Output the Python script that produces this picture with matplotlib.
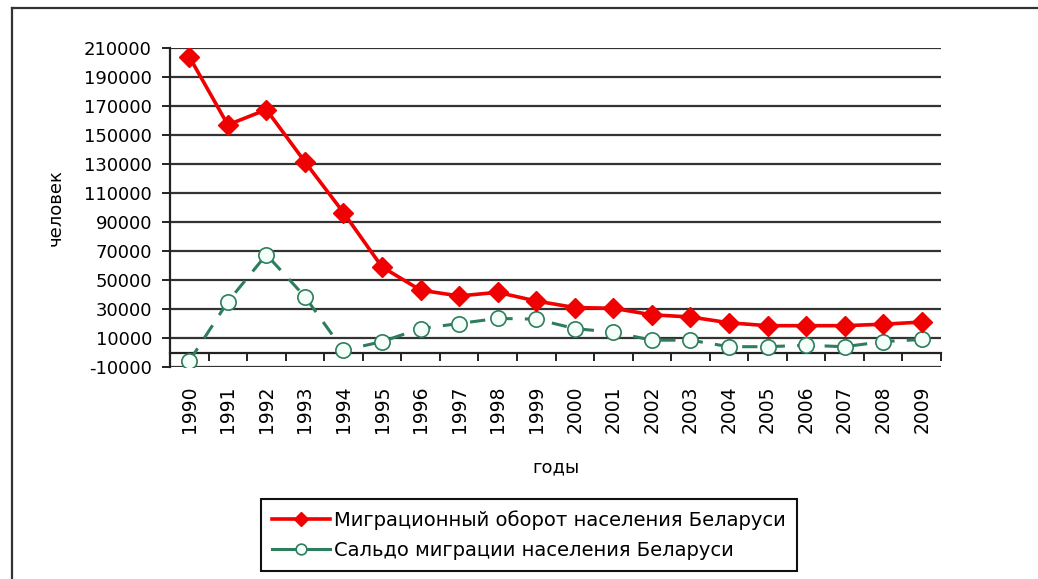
import matplotlib
matplotlib.use("Agg")
import matplotlib.pyplot as plt
import numpy as np
from matplotlib.lines import Line2D

years = ["1990", "1991", "1992", "1993", "1994", "1995", "1996", "1997", "1998", "1999",
         "2000", "2001", "2002", "2003", "2004", "2005", "2006", "2007", "2008", "2009"]
turnover = [204000, 157000, 167500, 131500, 96500, 59000, 43000, 39000, 41500, 35500,
            31000, 30500, 26000, 24500, 20500, 18500, 18500, 18500, 19500, 21000]
balance = [-6000, 35000, 67500, 38500, 1500, 7500, 16500, 20000, 23500, 23000,
           16500, 14000, 8500, 8500, 4000, 4000, 5000, 4000, 7500, 9000]
y_ticks = list(range(-10000, 210001, 20000))

label_turnover = "Миграционный оборот населения Беларуси"
label_balance = "Сальдо миграции населения Беларуси"

plt.rcParams['font.family'] = ['DejaVu Sans']

W, H = 1038, 579
fig = plt.figure(figsize=(W / 100, H / 100), dpi=100)
ax = fig.add_axes([170 / W, 1 - 367 / H, (941 - 170) / W, (367 - 48) / H])

x = np.arange(len(years))
red = '#F00000'
green = '#2E7D5C'

ax.plot(x, turnover, color=red, lw=2.6, marker='D', markersize=10,
        markerfacecolor=red, markeredgecolor=red, label=label_turnover, zorder=4)
ax.plot(x, balance, color=green, lw=2.2, linestyle=(0, (5, 4)), marker='o', markersize=11,
        markerfacecolor='#F4FFF9', markeredgecolor=green, markeredgewidth=1.2,
        label=label_balance, zorder=3)

ax.set_xlim(-0.5, len(years) - 0.5)
ax.set_ylim(-10000, 210000)
ax.set_yticks(y_ticks)
ax.set_yticklabels([str(v) for v in y_ticks], fontsize=13)
ax.grid(axis='y', color='#333333', lw=1.6)
ax.set_axisbelow(True)

ax.spines['top'].set_visible(False)
ax.spines['right'].set_visible(False)
ax.spines['left'].set_color('#222222')
ax.spines['left'].set_linewidth(1.6)
ax.spines['bottom'].set_position(('data', 0))
ax.spines['bottom'].set_color('#222222')
ax.spines['bottom'].set_linewidth(1.6)

ax.tick_params(axis='y', length=6, width=1.4, pad=7, color='#222222')
ax.set_xticks(np.arange(-0.5, len(years) + 0.5, 1))
ax.set_xticklabels([])
ax.tick_params(axis='x', which='major', length=6, width=1.4, direction='out', color='#222222')
ax.set_xticks(x, minor=True)
ax.set_xticklabels(years, minor=True, rotation=90, fontsize=13.5)
ax.tick_params(axis='x', which='minor', length=0, pad=24)

ax.set_xlabel("годы", fontsize=13)
ax.xaxis.set_label_coords(0.5, -0.285)
ax.set_ylabel("человек", fontsize=13)
ax.yaxis.set_label_coords(-0.137, 0.5)

leg = fig.legend(loc='center', bbox_to_anchor=(529 / W, 1 - 535 / H), fontsize=14,
                 numpoints=1, handlelength=3, fancybox=False, edgecolor='#111111',
                 framealpha=1, borderpad=0.55, labelspacing=0.6, handletextpad=0.2,
                 markerscale=0.7)
leg.get_frame().set_linewidth(1.5)
for h in leg.legend_handles:
    h.set_linestyle('-')

# outer chart-area border (left and top edges only are visible)
fig.add_artist(Line2D([12 / W, 12 / W], [0, 1 - 8 / H], transform=fig.transFigure,
                      color='#333333', lw=1.6))
fig.add_artist(Line2D([12 / W, 1], [1 - 8 / H, 1 - 8 / H], transform=fig.transFigure,
                      color='#333333', lw=1.6))

fig.savefig("out.png", dpi=100)
